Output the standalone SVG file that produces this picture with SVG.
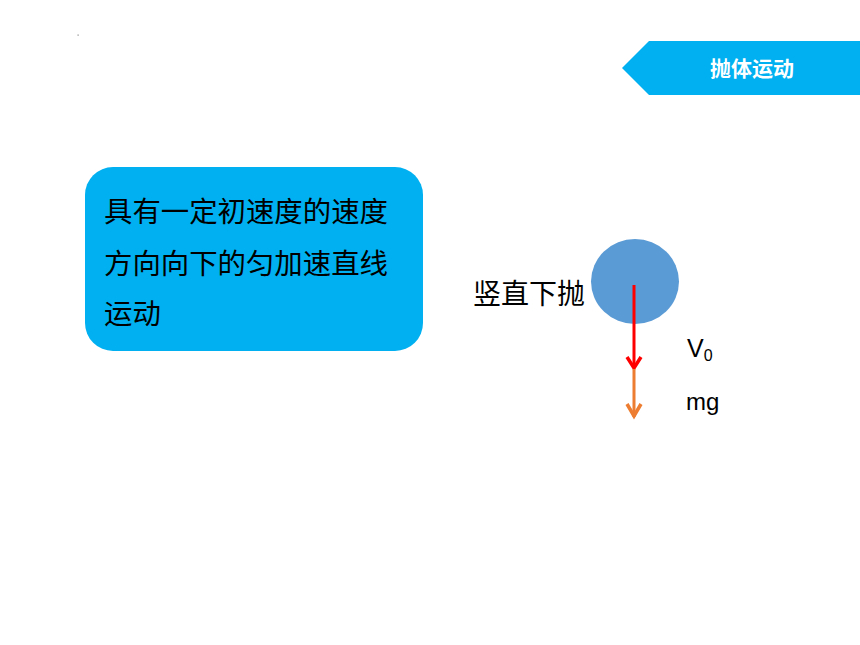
<svg xmlns="http://www.w3.org/2000/svg" width="860" height="645" viewBox="0 0 860 645">
<style>
.cjk{font-family:"Noto Sans CJK SC","Noto Sans",sans-serif;}
.lat{font-family:"Liberation Sans","Noto Sans",sans-serif;fill:#000;}
.vec{fill:none;stroke-width:3;stroke-linecap:butt;stroke-linejoin:miter;}
.head{fill:none;stroke-width:3.5;stroke-linecap:butt;stroke-linejoin:miter;}
</style>
<rect width="860" height="645" fill="#fff"/>
<rect x="77.5" y="34.5" width="1.2" height="1.2" fill="#888"/>
<g id="tag">
<polygon points="622,68 649,41 860,41 860,95 649,95" fill="#00B0F0"/>
<text x="752" y="76" class="cjk" font-size="21" font-weight="bold" fill="#fff" text-anchor="middle">抛体运动</text>
</g>
<g id="desc">
<rect x="85" y="167" width="338" height="184" rx="28" ry="28" fill="#00B0F0"/>
<text class="cjk" font-size="28.4" fill="#000">
<tspan x="104" y="222">具有一定初速度的速度</tspan>
<tspan x="104" y="274">方向向下的匀加速直线</tspan>
<tspan x="104" y="324">运动</tspan>
</text>
</g>
<g id="label">
<text x="473" y="304" class="cjk" font-size="28" fill="#000">竖直下抛</text>
</g>
<g id="ball">
<ellipse cx="635" cy="281.5" rx="44" ry="42.5" fill="#5B9BD5"/>
</g>
<g id="connectors">
<line x1="634" y1="285" x2="634" y2="368" class="vec" stroke="#FF0000"/>
<polyline points="627,357 634,368 641,357" class="head" stroke="#FF0000"/>
<line x1="634" y1="369" x2="634" y2="417" class="vec" stroke="#ED7D31"/>
<polyline points="627,404 634,416 641,404" class="head" stroke="#ED7D31"/>
</g>
<g id="v0">
<text x="687" y="357" class="lat" font-size="25">V<tspan font-size="16" dy="4">0</tspan></text>
</g>
<g id="mg">
<text x="686" y="410" class="lat" font-size="24">mg</text>
</g>
</svg>
